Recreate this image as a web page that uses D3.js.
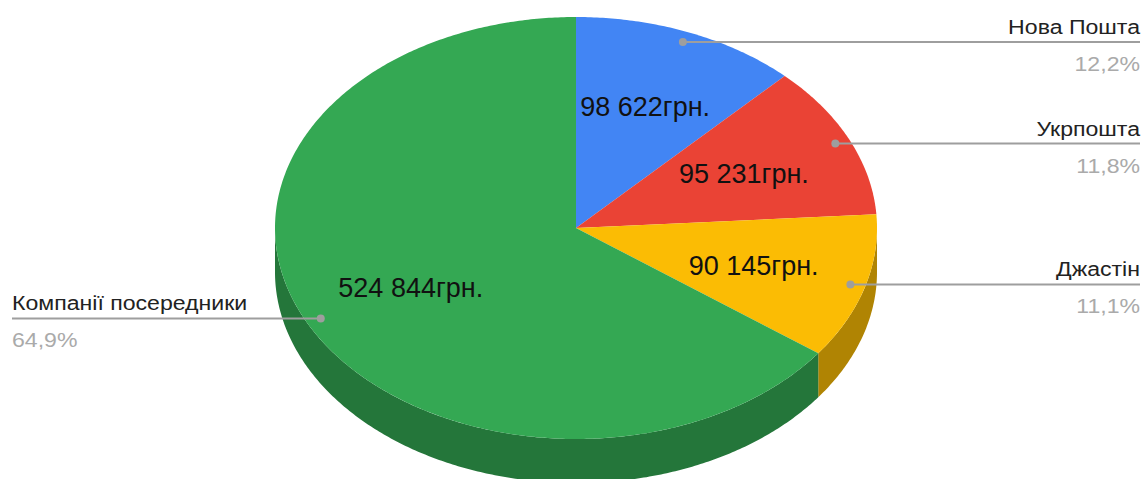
<!DOCTYPE html>
<html>
<head>
<meta charset="utf-8">
<script src="https://cdn.jsdelivr.net/npm/d3@7"></script>
<style>
  body { margin: 0; background: #fff; }
  text { font-family: "Liberation Sans", Arial, sans-serif; }
</style>
</head>
<body>
<script>
var categories = ['Нова Пошта', 'Укрпошта', 'Джастін', 'Компанії посередники'],
    values = [98622, 95231, 90145, 524844],
    colors = ['#4285F4', '#EA4335', '#FBBC04', '#34A853'];

var width = 1146,
    height = 479,
    cx = 576,
    cy = 228,
    rx = 301,
    ry = 211,
    depth = 44;

var svg = d3.select('body')
    .append('svg')
    .attr('width', width)
    .attr('height', height);

var total = d3.sum(values);
var slices = d3.pie().sort(null)(values);

var loc = d3.formatLocale({decimal: ',', thousands: ' ', grouping: [3], currency: ['', '']});
var fmtVal = loc.format(',d');
var fmtPct = loc.format('.1f');

// projection of an angle (0 = top, clockwise) on the tilted ellipse
function pt(a, f, dy) {
    return [cx + rx * f * Math.sin(a), cy - ry * f * Math.cos(a) + (dy || 0)];
}
function arcPts(a0, a1, dy) {
    var n = Math.max(2, Math.ceil(Math.abs(a1 - a0) / 0.01)), out = [];
    for (var i = 0; i <= n; i++) out.push(pt(a0 + (a1 - a0) * i / n, 1, dy));
    return out;
}
var line = d3.line();

// outer walls, only the front half is visible
slices.forEach(function(d, i) {
    var a0 = Math.max(d.startAngle, Math.PI / 2),
        a1 = Math.min(d.endAngle, Math.PI * 1.5);
    if (a1 <= a0) return;
    var p = arcPts(a0, a1, 0).concat(arcPts(a1, a0, depth));
    svg.append('path')
        .attr('d', line(p) + 'Z')
        .attr('fill', d3.color(colors[i]).darker(1));
});

// top faces
slices.forEach(function(d, i) {
    var p = [[cx, cy]].concat(arcPts(d.startAngle, d.endAngle, 0));
    svg.append('path')
        .attr('d', line(p) + 'Z')
        .attr('fill', colors[i]);
});

// value labels inside
slices.forEach(function(d, i) {
    var m = (d.startAngle + d.endAngle) / 2;
    var x = cx + rx * 0.615 * Math.sin(m),
        y = cy - ry * 0.62 * Math.cos(m);
    svg.append('text')
        .attr('x', x)
        .attr('y', y)
        .attr('dy', '0.36em')
        .attr('text-anchor', 'middle')
        .attr('font-size', 27)
        .attr('fill', '#111')
        .text(fmtVal(values[i]) + 'грн.');
});

// callouts
slices.forEach(function(d, i) {
    var m = (d.startAngle + d.endAngle) / 2, p = pt(m, 0.95);
    var right = Math.sin(m) > 0;
    var xEnd = right ? 1140 : 12;
    svg.append('line')
        .attr('x1', p[0]).attr('y1', p[1])
        .attr('x2', xEnd).attr('y2', p[1])
        .attr('stroke', '#9e9e9e')
        .attr('stroke-width', 2);
    svg.append('circle')
        .attr('cx', p[0]).attr('cy', p[1])
        .attr('r', 4)
        .attr('fill', '#9e9e9e');
    svg.append('text')
        .attr('transform', 'translate(' + xEnd + ',' + (p[1] - 8) + ') scale(1.1,1)')
        .attr('text-anchor', right ? 'end' : 'start')
        .attr('font-size', 21)
        .attr('fill', '#222')
        .text(categories[i]);
    svg.append('text')
        .attr('transform', 'translate(' + xEnd + ',' + (p[1] + 29) + ') scale(1.1,1)')
        .attr('text-anchor', right ? 'end' : 'start')
        .attr('font-size', 21)
        .attr('fill', '#aaa')
        .text(fmtPct(values[i] / total * 100) + '%');
});
</script>
</body>
</html>
